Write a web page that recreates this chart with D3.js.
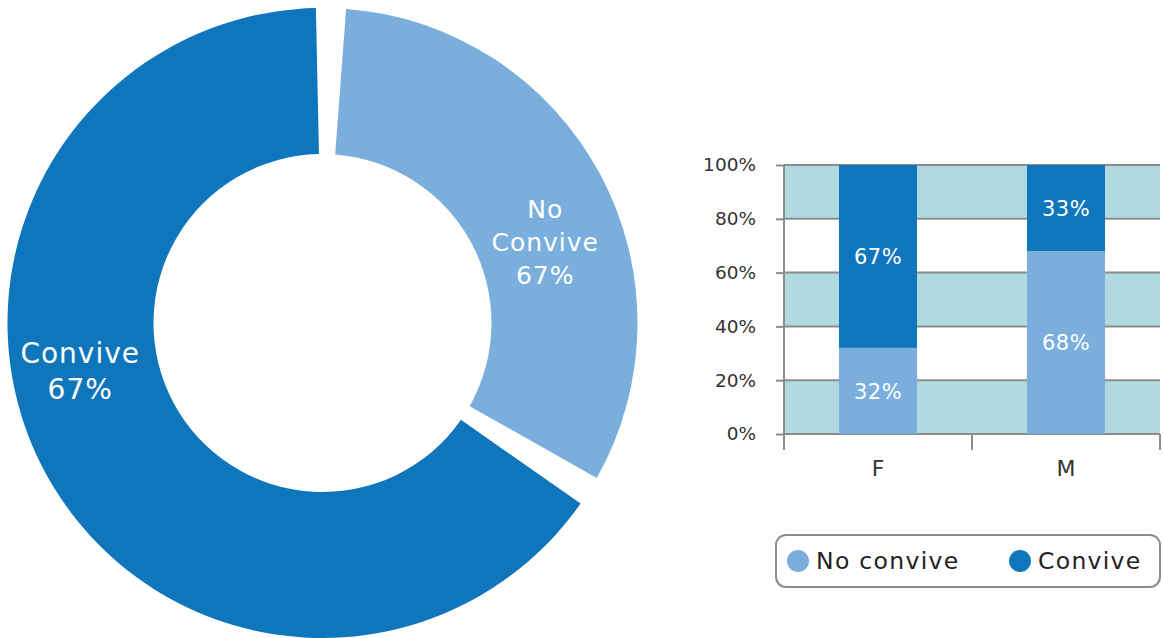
<!DOCTYPE html>
<html>
<head>
<meta charset="utf-8">
<script src="https://cdn.jsdelivr.net/npm/d3@7"></script>
<style>
  body { margin: 0; background: #fff; }
  svg { display: block; font-family: "DejaVu Sans", sans-serif; }
</style>
</head>
<body>
<div id="chart"></div>
<script>
// donut data
const donutKeys = ['No convive', 'Convive'];
const donutValues = [33, 67];
const donutLabels = [['No', 'Convive', '67%'], ['Convive', '67%']];

// stacked bars data
const barCategories = ['F', 'M'];
const noConvive = [32, 68];
const convive = [68, 32];
const noConviveLabels = ['32%', '68%'];
const conviveLabels = ['67%', '33%'];
const yTicks = [0, 20, 40, 60, 80, 100];

const colors = { 'No convive': '#7aaedc', 'Convive': '#1076bc' };
const band = '#b0dadf';
const grid = '#8c8c8c';

const width = 1163, height = 638;
const svg = d3.select('#chart').append('svg')
  .attr('width', width)
  .attr('height', height);

// ---- donut
const cx = 322.5, cy = 323;
const rOuter = 315, rInner = 169;
const rad = (deg) => deg * Math.PI / 180;
const pad = rad(5.5);

const pie = d3.pie()
  .sort(null)
  .value(d => d)
  .startAngle(rad(1.55))
  .endAngle(rad(1.55) + 2 * Math.PI)
  .padAngle(pad);

// radial gaps: trim the angles ourselves instead of d3's parallel padding
const arc = d3.arc()
  .innerRadius(rInner)
  .outerRadius(rOuter)
  .startAngle(d => d.startAngle + d.padAngle / 2)
  .endAngle(d => d.endAngle - d.padAngle / 2)
  .padAngle(0);

const donut = svg.append('g')
  .attr('transform', 'translate(' + cx + ',' + cy + ')');

const arcs = pie(donutValues);
donut.selectAll('path.slice')
  .data(arcs)
  .enter()
  .append('path')
  .attr('class', 'slice')
  .attr('d', arc)
  .attr('fill', (d, i) => colors[donutKeys[i]]);

// label anchors (angle clockwise from top, radius), font size, line height
const labelLayout = [
  { angle: 70, r: 237, size: 25, lh: 33 },
  { angle: 258.8, r: 247, size: 28, lh: 36 }
];
donutLabels.forEach((lines, i) => {
  const L = labelLayout[i];
  const x = Math.sin(rad(L.angle)) * L.r;
  const y = -Math.cos(rad(L.angle)) * L.r;
  const t = donut.append('text')
    .attr('text-anchor', 'middle')
    .attr('fill', '#fff')
    .attr('font-size', L.size)
    .attr('letter-spacing', 1);
  const first = y - (lines.length - 1) * L.lh / 2;
  lines.forEach((line, j) => {
    t.append('tspan')
      .attr('x', x)
      .attr('y', first + j * L.lh)
      .attr('dy', '0.36em')
      .text(line);
  });
});

// ---- stacked bars
const plot = { left: 784, right: 1160, top: 165, bottom: 434 };

const x = d3.scaleBand()
  .domain(barCategories)
  .range([plot.left, plot.right])
  .paddingInner(0.585)
  .paddingOuter(0.2925);

const y = d3.scaleLinear()
  .domain([0, 100])
  .range([plot.bottom, plot.top]);

const bars = svg.append('g');

// alternating background bands
const bandStarts = [0, 40, 80];
bars.selectAll('rect.band')
  .data(bandStarts)
  .enter()
  .append('rect')
  .attr('class', 'band')
  .attr('x', plot.left)
  .attr('width', plot.right - plot.left)
  .attr('y', d => y(d + 20))
  .attr('height', d => y(d) - y(d + 20))
  .attr('fill', band);

// gridlines
bars.selectAll('line.grid')
  .data(yTicks)
  .enter()
  .append('line')
  .attr('class', 'grid')
  .attr('x1', plot.left)
  .attr('x2', plot.right)
  .attr('y1', d => y(d))
  .attr('y2', d => y(d))
  .attr('stroke', grid)
  .attr('stroke-width', 2);

const rows = barCategories.map((c, i) => ({
  cat: c,
  'No convive': noConvive[i],
  'Convive': convive[i]
}));
const stack = d3.stack().keys(donutKeys)(rows);
const segLabels = { 'No convive': noConviveLabels, 'Convive': conviveLabels };

stack.forEach((layer) => {
  bars.selectAll(null)
    .data(layer)
    .enter()
    .append('rect')
    .attr('x', d => x(d.data.cat))
    .attr('width', x.bandwidth())
    .attr('y', d => y(d[1]))
    .attr('height', d => y(d[0]) - y(d[1]))
    .attr('fill', colors[layer.key]);

  bars.selectAll(null)
    .data(layer)
    .enter()
    .append('text')
    .attr('x', d => x(d.data.cat) + x.bandwidth() / 2)
    .attr('y', d => y((d[0] + d[1]) / 2))
    .attr('dy', '0.36em')
    .attr('text-anchor', 'middle')
    .attr('fill', '#fff')
    .attr('font-size', 21)
    .attr('letter-spacing', 0.5)
    .text((d, i) => segLabels[layer.key][i]);
});

// y axis
const yAxis = d3.axisLeft(y)
  .tickValues(yTicks)
  .tickFormat(d => d + '%')
  .tickSize(8)
  .tickSizeOuter(0)
  .tickPadding(20);

const yG = bars.append('g')
  .attr('transform', 'translate(' + plot.left + ',0)')
  .call(yAxis);
yG.select('.domain').remove();
yG.selectAll('.tick line').attr('stroke', grid).attr('stroke-width', 2);
yG.selectAll('.tick text')
  .attr('fill', '#333')
  .attr('font-size', 18.5)
  .attr('font-family', '"DejaVu Sans", sans-serif');
yG.append('line')
  .attr('x1', 0).attr('x2', 0)
  .attr('y1', y(100)).attr('y2', y(0) + 16)
  .attr('stroke', grid)
  .attr('stroke-width', 2);

// x axis: ticks on band boundaries
const boundaries = barCategories.map(c => x(c) - x.step() * x.paddingOuter()).concat([plot.right]);
bars.selectAll('line.xtick')
  .data(boundaries)
  .enter()
  .append('line')
  .attr('class', 'xtick')
  .attr('x1', d => d).attr('x2', d => d)
  .attr('y1', y(0)).attr('y2', y(0) + 16)
  .attr('stroke', grid)
  .attr('stroke-width', 2);

bars.selectAll('text.xlab')
  .data(barCategories)
  .enter()
  .append('text')
  .attr('class', 'xlab')
  .attr('x', d => x(d) + x.bandwidth() / 2)
  .attr('y', y(0) + 34)
  .attr('dy', '0.36em')
  .attr('text-anchor', 'middle')
  .attr('fill', '#333')
  .attr('font-size', 22)
  .text(d => d);

// ---- legend
const legend = svg.append('g').attr('transform', 'translate(776,535)');
legend.append('rect')
  .attr('width', 384)
  .attr('height', 52)
  .attr('rx', 10)
  .attr('fill', '#fff')
  .attr('stroke', '#8c8c8c')
  .attr('stroke-width', 2);

const legendX = [22, 244];
const items = legend.selectAll('g.item')
  .data(donutKeys)
  .enter()
  .append('g')
  .attr('class', 'item')
  .attr('transform', (d, i) => 'translate(' + legendX[i] + ',26)');
items.append('circle')
  .attr('r', 11)
  .attr('fill', d => colors[d]);
items.append('text')
  .attr('x', 18)
  .attr('dy', '0.36em')
  .attr('fill', '#222')
  .attr('font-size', 23.5)
  .attr('letter-spacing', 1.3)
  .text(d => d);
</script>
</body>
</html>
